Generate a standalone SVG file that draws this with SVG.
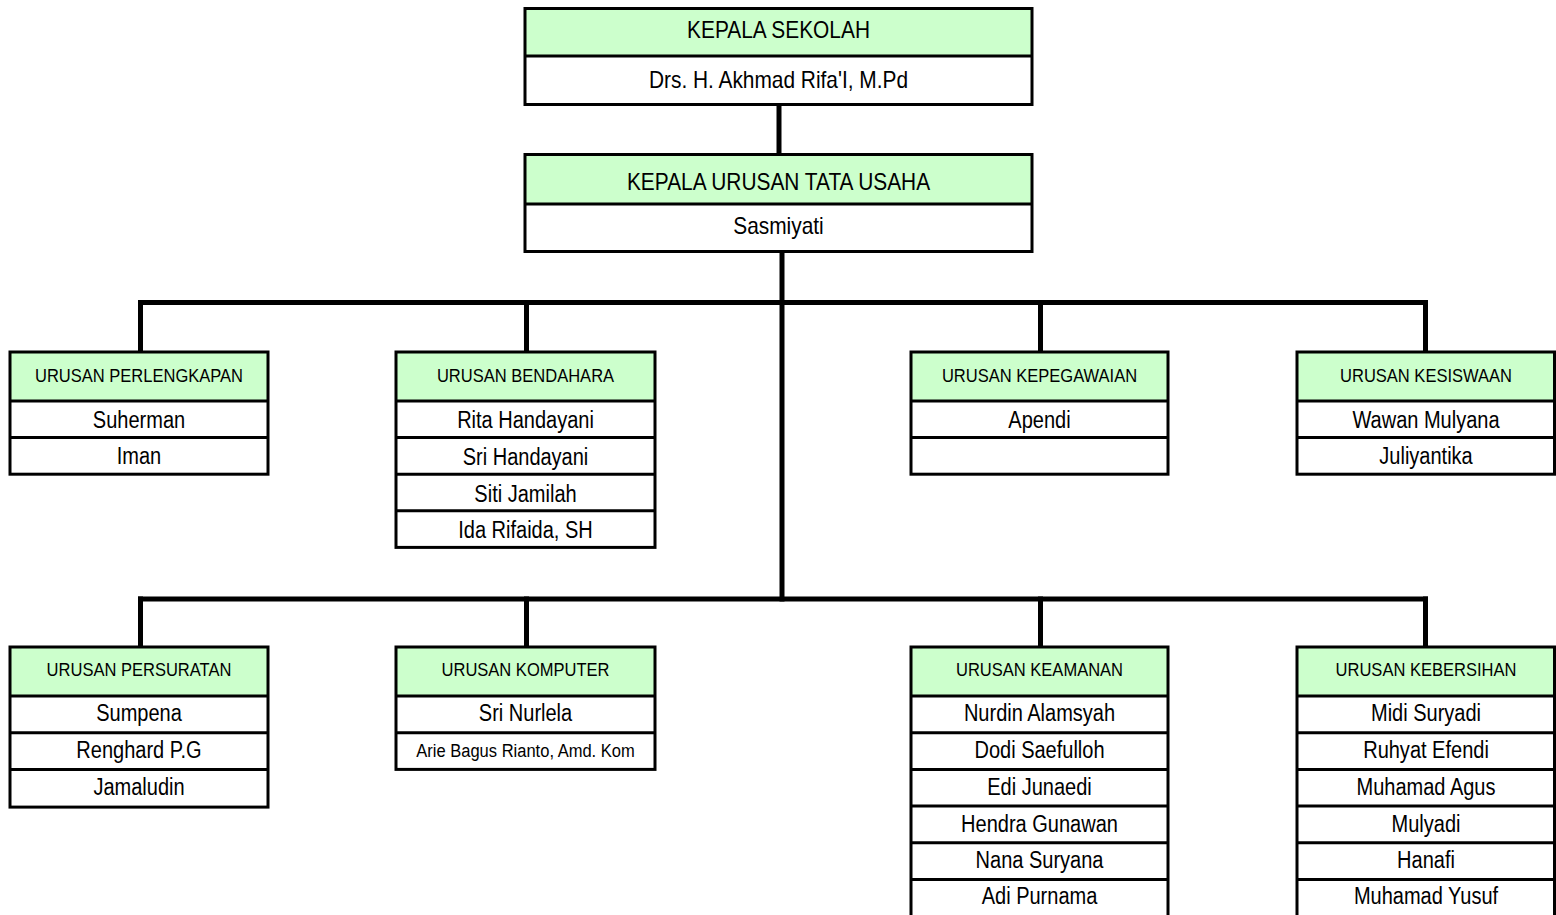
<svg xmlns="http://www.w3.org/2000/svg" width="1556" height="915" viewBox="0 0 1556 915">
<style>
.hd{fill:#CCFFCC;stroke:none}
.bx{fill:none;stroke:#000;stroke-width:3}
.dv{stroke:#000;stroke-width:3}
.cn{stroke:#000;stroke-width:5;fill:none;stroke-linecap:square}
text{font-family:"Liberation Sans",Arial,sans-serif;fill:#000;text-anchor:middle}
.t{font-size:23px}
.tt{font-size:24px}
.h{font-size:19px}
</style>
<rect x="0" y="0" width="1556" height="915" fill="#fff"/>
<g id="connectors">
<line class="cn" x1="779" y1="106" x2="779" y2="153"/>
<line class="cn" x1="782" y1="253" x2="782" y2="599"/>
<line class="cn" x1="140.5" y1="302.5" x2="1425.5" y2="302.5"/>
<line class="cn" x1="140.5" y1="302.5" x2="140.5" y2="350"/>
<line class="cn" x1="526.5" y1="302.5" x2="526.5" y2="350"/>
<line class="cn" x1="1040.5" y1="302.5" x2="1040.5" y2="350"/>
<line class="cn" x1="1425.5" y1="302.5" x2="1425.5" y2="350"/>
<line class="cn" x1="140.5" y1="599" x2="1425.5" y2="599"/>
<line class="cn" x1="140.5" y1="599" x2="140.5" y2="645"/>
<line class="cn" x1="526.5" y1="599" x2="526.5" y2="645"/>
<line class="cn" x1="1040.5" y1="599" x2="1040.5" y2="645"/>
<line class="cn" x1="1425.5" y1="599" x2="1425.5" y2="645"/>
</g>
<g id="kepala-sekolah">
<rect class="hd" x="525" y="8.5" width="507" height="47.5"/>
<rect class="bx" x="525" y="8.5" width="507" height="96"/>
<line class="dv" x1="525" y1="56" x2="1032" y2="56"/>
<text class="tt" transform="translate(778.5 37.5) scale(0.87 1)">KEPALA SEKOLAH</text>
<text class="tt" transform="translate(778.5 87.5) scale(0.87 1)">Drs. H. Akhmad Rifa'I, M.Pd</text>
</g>
<g id="kepala-tu">
<rect class="hd" x="525" y="154.5" width="507" height="49.5"/>
<rect class="bx" x="525" y="154.5" width="507" height="97"/>
<line class="dv" x1="525" y1="204" x2="1032" y2="204"/>
<text class="tt" transform="translate(778.5 190) scale(0.87 1)">KEPALA URUSAN TATA USAHA</text>
<text class="tt" transform="translate(778.5 233.5) scale(0.87 1)">Sasmiyati</text>
</g>
<g id="perlengkapan">
<rect class="hd" x="10" y="352" width="258" height="49"/>
<rect class="bx" x="10" y="352" width="258" height="122.2"/>
<line class="dv" x1="10" y1="401" x2="268" y2="401"/>
<line class="dv" x1="10" y1="437.6" x2="268" y2="437.6"/>
<text class="h" transform="translate(139 382) scale(0.87 1)">URUSAN PERLENGKAPAN</text>
<text class="t" transform="translate(139 427.5) scale(0.87 1)">Suherman</text>
<text class="t" transform="translate(139 464) scale(0.87 1)">Iman</text>
</g>
<g id="bendahara">
<rect class="hd" x="396" y="352" width="259" height="49"/>
<rect class="bx" x="396" y="352" width="259" height="195.4"/>
<line class="dv" x1="396" y1="401" x2="655" y2="401"/>
<line class="dv" x1="396" y1="437.6" x2="655" y2="437.6"/>
<line class="dv" x1="396" y1="474.2" x2="655" y2="474.2"/>
<line class="dv" x1="396" y1="510.8" x2="655" y2="510.8"/>
<text class="h" transform="translate(525.5 382) scale(0.87 1)">URUSAN BENDAHARA</text>
<text class="t" transform="translate(525.5 427.5) scale(0.87 1)">Rita Handayani</text>
<text class="t" transform="translate(525.5 464.5) scale(0.87 1)">Sri Handayani</text>
<text class="t" transform="translate(525.5 501.5) scale(0.87 1)">Siti Jamilah</text>
<text class="t" transform="translate(525.5 538) scale(0.87 1)">Ida Rifaida, SH</text>
</g>
<g id="kepegawaian">
<rect class="hd" x="911" y="352" width="257" height="49"/>
<rect class="bx" x="911" y="352" width="257" height="122.2"/>
<line class="dv" x1="911" y1="401" x2="1168" y2="401"/>
<line class="dv" x1="911" y1="437.6" x2="1168" y2="437.6"/>
<text class="h" transform="translate(1039.5 382) scale(0.87 1)">URUSAN KEPEGAWAIAN</text>
<text class="t" transform="translate(1039.5 427.5) scale(0.87 1)">Apendi</text>
</g>
<g id="kesiswaan">
<rect class="hd" x="1297" y="352" width="258" height="49"/>
<rect class="bx" x="1297" y="352" width="257.5" height="122.2"/>
<line class="dv" x1="1297" y1="401" x2="1555" y2="401"/>
<line class="dv" x1="1297" y1="437.6" x2="1555" y2="437.6"/>
<text class="h" transform="translate(1426 382) scale(0.87 1)">URUSAN KESISWAAN</text>
<text class="t" transform="translate(1426 427.5) scale(0.87 1)">Wawan Mulyana</text>
<text class="t" transform="translate(1426 464) scale(0.87 1)">Juliyantika</text>
</g>
<g id="persuratan">
<rect class="hd" x="10" y="647" width="258" height="49"/>
<rect class="bx" x="10" y="647" width="258" height="160.1"/>
<line class="dv" x1="10" y1="696" x2="268" y2="696"/>
<line class="dv" x1="10" y1="732.7" x2="268" y2="732.7"/>
<line class="dv" x1="10" y1="769.4" x2="268" y2="769.4"/>
<text class="h" transform="translate(139 676) scale(0.87 1)">URUSAN PERSURATAN</text>
<text class="t" transform="translate(139 721) scale(0.87 1)">Sumpena</text>
<text class="t" transform="translate(139 758) scale(0.87 1)">Renghard P.G</text>
<text class="t" transform="translate(139 795) scale(0.87 1)">Jamaludin</text>
</g>
<g id="komputer">
<rect class="hd" x="396" y="647" width="259" height="49"/>
<rect class="bx" x="396" y="647" width="259" height="122.4"/>
<line class="dv" x1="396" y1="696" x2="655" y2="696"/>
<line class="dv" x1="396" y1="732.7" x2="655" y2="732.7"/>
<text class="h" transform="translate(525.5 676) scale(0.87 1)">URUSAN KOMPUTER</text>
<text class="t" transform="translate(525.5 721) scale(0.87 1)">Sri Nurlela</text>
<text class="h" transform="translate(525.5 757) scale(0.87 1)">Arie Bagus Rianto, Amd. Kom</text>
</g>
<g id="keamanan">
<rect class="hd" x="911" y="647" width="257" height="49"/>
<rect class="bx" x="911" y="647" width="257" height="270"/>
<line class="dv" x1="911" y1="696" x2="1168" y2="696"/>
<line class="dv" x1="911" y1="732.7" x2="1168" y2="732.7"/>
<line class="dv" x1="911" y1="769.4" x2="1168" y2="769.4"/>
<line class="dv" x1="911" y1="806.1" x2="1168" y2="806.1"/>
<line class="dv" x1="911" y1="842.8" x2="1168" y2="842.8"/>
<line class="dv" x1="911" y1="879.5" x2="1168" y2="879.5"/>
<text class="h" transform="translate(1039.5 676) scale(0.87 1)">URUSAN KEAMANAN</text>
<text class="t" transform="translate(1039.5 721) scale(0.87 1)">Nurdin Alamsyah</text>
<text class="t" transform="translate(1039.5 758) scale(0.87 1)">Dodi Saefulloh</text>
<text class="t" transform="translate(1039.5 795) scale(0.87 1)">Edi Junaedi</text>
<text class="t" transform="translate(1039.5 831.5) scale(0.87 1)">Hendra Gunawan</text>
<text class="t" transform="translate(1039.5 868) scale(0.87 1)">Nana Suryana</text>
<text class="t" transform="translate(1039.5 904) scale(0.87 1)">Adi Purnama</text>
</g>
<g id="kebersihan">
<rect class="hd" x="1297" y="647" width="258" height="49"/>
<rect class="bx" x="1297" y="647" width="257.5" height="270"/>
<line class="dv" x1="1297" y1="696" x2="1555" y2="696"/>
<line class="dv" x1="1297" y1="732.7" x2="1555" y2="732.7"/>
<line class="dv" x1="1297" y1="769.4" x2="1555" y2="769.4"/>
<line class="dv" x1="1297" y1="806.1" x2="1555" y2="806.1"/>
<line class="dv" x1="1297" y1="842.8" x2="1555" y2="842.8"/>
<line class="dv" x1="1297" y1="879.5" x2="1555" y2="879.5"/>
<text class="h" transform="translate(1426 676) scale(0.87 1)">URUSAN KEBERSIHAN</text>
<text class="t" transform="translate(1426 721) scale(0.87 1)">Midi Suryadi</text>
<text class="t" transform="translate(1426 758) scale(0.87 1)">Ruhyat Efendi</text>
<text class="t" transform="translate(1426 795) scale(0.87 1)">Muhamad Agus</text>
<text class="t" transform="translate(1426 831.5) scale(0.87 1)">Mulyadi</text>
<text class="t" transform="translate(1426 868) scale(0.87 1)">Hanafi</text>
<text class="t" transform="translate(1426 904) scale(0.87 1)">Muhamad Yusuf</text>
</g>
</svg>
